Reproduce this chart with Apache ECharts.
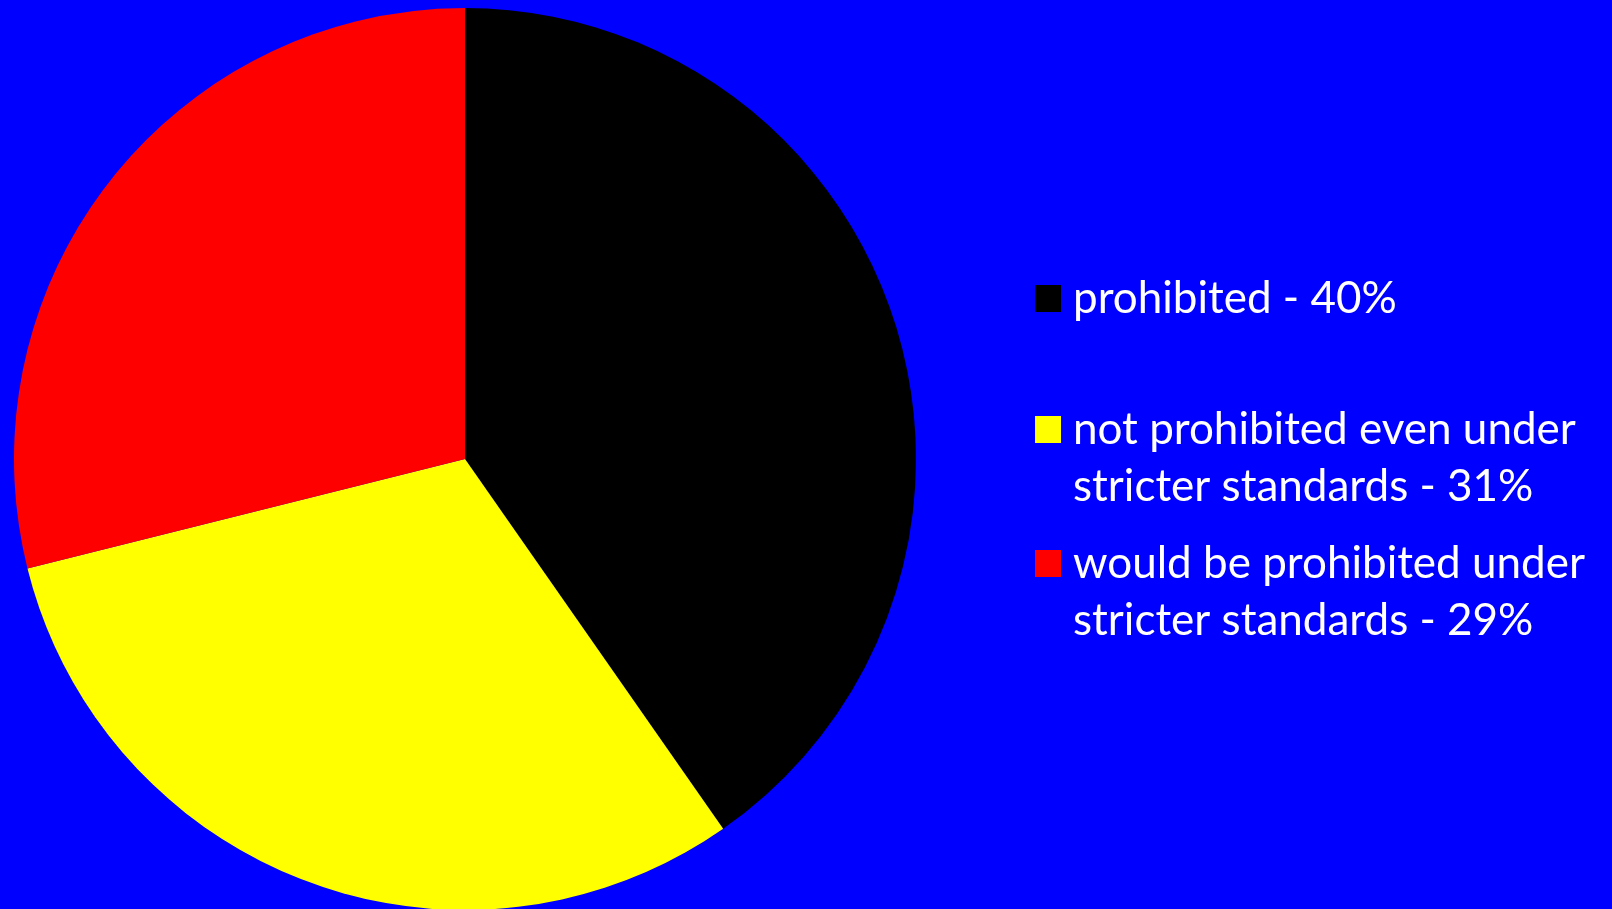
<!DOCTYPE html>
<html><head><meta charset="utf-8">
<script src="https://cdn.jsdelivr.net/npm/echarts@6/dist/echarts.min.js"></script>
<style>html,body{margin:0;padding:0;background:#0000FF;}#c{width:1612px;height:909px;}</style>
</head><body><div id="c"></div>
<script>
const categories = ['prohibited', 'not prohibited even under stricter standards', 'would be prohibited under stricter standards'];
const labels = ['prohibited - 40%', 'not prohibited even under\nstricter standards - 31%', 'would be prohibited under\nstricter standards - 29%'];
const values = [40.3, 30.8, 28.9];
const colors = ['#000000', '#FFFF00', '#FF0000'];

const chart = echarts.init(document.getElementById('c'));
const font = 'Lato';
const tops = [270, 344, 478];
const legends = categories.map((name, i) => ({
  show: true,
  left: 1035,
  top: tops[i],
  padding: 0,
  orient: 'vertical',
  selectedMode: false,
  icon: 'rect',
  itemWidth: 26,
  itemHeight: 27,
  data: [name],
  // an empty leading line keeps the first text line level with the marker
  formatter: () => (labels[i].indexOf('\n') >= 0 ? '\n' + labels[i] : labels[i]),
  textStyle: {
    color: '#FFFFFF',
    fontFamily: font,
    fontSize: 44,
    lineHeight: 57,
    padding: [0, 0, 0, 7]
  }
}));

chart.setOption({
  backgroundColor: '#0000FF',
  animation: false,
  legend: legends,
  series: [{
    type: 'pie',
    center: [465, 459],
    radius: 451,
    startAngle: 90,
    clockwise: true,
    label: { show: false },
    labelLine: { show: false },
    emphasis: { disabled: true },
    itemStyle: { borderWidth: 0 },
    data: categories.map((n, i) => ({ name: n, value: values[i], itemStyle: { color: colors[i] } }))
  }]
});
</script></body></html>
